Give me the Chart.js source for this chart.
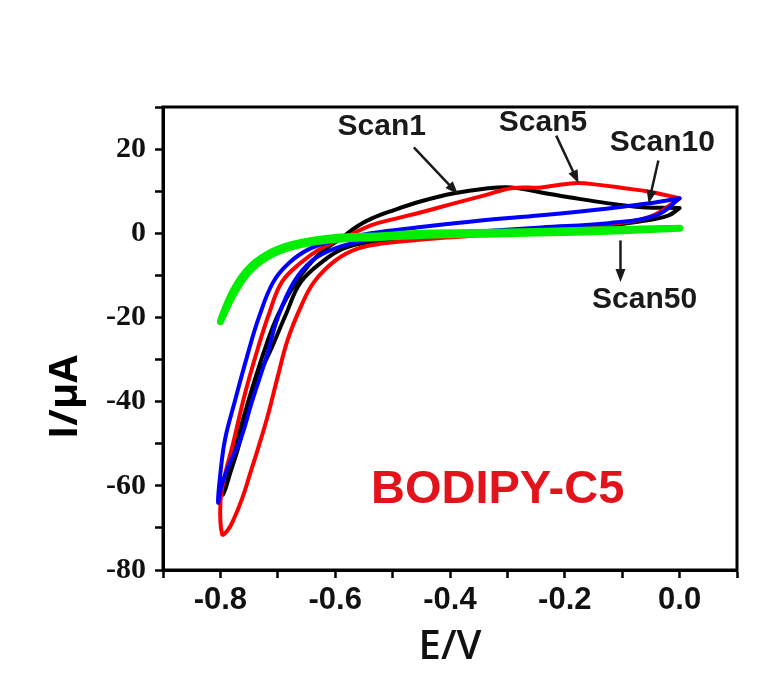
<!DOCTYPE html>
<html>
<head>
<meta charset="utf-8">
<script src="https://cdn.jsdelivr.net/npm/chart.js@4"></script>
<style>
  html, body { margin: 0; padding: 0; background: #fff; }
  #wrap { width: 757px; height: 677px; }
</style>
</head>
<body>
<div id="wrap"><canvas id="cv"></canvas></div>
<script>
// Voltamogramas (E em V, I em µA)
const scan1E = [0.0, -0.066, -0.124, -0.19, -0.241, -0.293, -0.34, -0.393, -0.45, -0.50, -0.535, -0.56, -0.59, -0.63, -0.67, -0.70, -0.72, -0.745, -0.77, -0.79, -0.80, -0.795, -0.783, -0.765, -0.753, -0.73, -0.71, -0.685, -0.66, -0.62, -0.585, -0.538, -0.45, -0.35, -0.25, -0.15, -0.07, -0.02, 0.0];
const scan1I = [6.0, 6.2, 7.1, 8.5, 9.7, 10.9, 10.6, 9.5, 7.6, 5.4, 3.6, 1.8, -1.2, -5.2, -12, -19.5, -26.5, -37, -48.5, -57, -62, -62, -57, -49, -41, -33, -27, -19, -11.6, -6.5, -3.6, -2.1, -1.2, -0.4, 0.4, 1.4, 2.8, 4.2, 6.0];

const scan5E = [0.0, -0.05, -0.096, -0.14, -0.183, -0.241, -0.293, -0.34, -0.393, -0.45, -0.50, -0.538, -0.58, -0.625, -0.66, -0.693, -0.715, -0.734, -0.757, -0.778, -0.793, -0.80, -0.797, -0.787, -0.777, -0.762, -0.748, -0.733, -0.718, -0.70, -0.683, -0.66, -0.637, -0.60, -0.56, -0.515, -0.45, -0.35, -0.24, -0.12, -0.05, 0.0];
const scan5I = [8.3, 9.8, 10.7, 11.5, 11.9, 10.9, 10.7, 9.0, 7.1, 5.0, 3.3, 1.9, -0.8, -3.6, -7, -11.6, -19, -27, -38, -50, -58, -64, -71.5, -70.5, -68, -63, -57, -50.5, -43.6, -34, -25.4, -17.5, -11.6, -6.5, -3.6, -2.4, -1.5, -0.5, 0.8, 2.2, 4.0, 8.3];

const scan10E = [0.0, -0.06, -0.124, -0.241, -0.35, -0.45, -0.538, -0.60, -0.643, -0.68, -0.708, -0.733, -0.753, -0.777, -0.792, -0.800, -0.804, -0.798, -0.785, -0.765, -0.745, -0.719, -0.70, -0.672, -0.64, -0.60, -0.538, -0.45, -0.35, -0.241, -0.124, -0.04, 0.0];
const scan10I = [8.3, 7.0, 5.9, 4.3, 3.0, 1.5, 0.0, -1.8, -3.6, -7, -11.6, -20, -29, -41, -49, -57, -64, -60, -55, -49, -40, -29, -20, -11.6, -6.5, -3.6, -1.5, -0.3, 0.4, 1.4, 2.4, 4.3, 8.3];

const scan50E = [0.0, -0.1, -0.2, -0.3, -0.45, -0.52, -0.6, -0.66, -0.707, -0.748, -0.777, -0.8, -0.777, -0.748, -0.707, -0.66, -0.6, -0.52, -0.45, -0.3, -0.2, -0.1, 0.0];
const scan50I = [1.2, 0.9, 0.6, 0.3, 0.0, -0.6, -1.0, -2.2, -4.2, -8.0, -13.5, -21, -14.5, -8.8, -4.8, -2.7, -1.5, -1.0, -0.5, -0.1, 0.2, 0.6, 1.2];

// rótulos e setas (posição em unidades dos eixos)
const rotulos = ['Scan1', 'Scan5', 'Scan10', 'Scan50'];
const rotuloE = [-0.519, -0.238, -0.030, -0.061];
const rotuloI = [25.3, 26.2, 21.5, -15.9];
const setaDeE = [-0.463, -0.215, -0.037, -0.103];
const setaDeI = [20.4, 23.2, 17.3, -1.7];
const setaAteE = [-0.386, -0.176, -0.054, -0.103];
const setaAteI = [9.3, 11.9, 7.1, -11.6];

const pontos = (es, is) => es.map((e, i) => ({ x: e, y: is[i] }));

const moldura = {
    id: 'moldura',
    afterDraw(chart) {
        const a = chart.chartArea;
        const c = chart.ctx;
        c.save();
        c.strokeStyle = '#000';
        c.lineWidth = 3;
        c.strokeRect(a.left, a.top, a.right - a.left, a.bottom - a.top);
        c.restore();
    }
};

const anotacoes = {
    id: 'anotacoes',
    afterDatasetsDraw(chart) {
        const c = chart.ctx;
        const sx = chart.scales.x, sy = chart.scales.y;
        c.save();
        c.fillStyle = '#1a1a1a';
        c.strokeStyle = '#1a1a1a';
        c.font = 'bold 30px "Liberation Sans"';
        c.textAlign = 'center';
        c.textBaseline = 'middle';
        rotulos.forEach((t, i) => {
            c.fillText(t, sx.getPixelForValue(rotuloE[i]), sy.getPixelForValue(rotuloI[i]));
            const x0 = sx.getPixelForValue(setaDeE[i]), y0 = sy.getPixelForValue(setaDeI[i]);
            const x1 = sx.getPixelForValue(setaAteE[i]), y1 = sy.getPixelForValue(setaAteI[i]);
            const ang = Math.atan2(y1 - y0, x1 - x0);
            c.lineWidth = 2.5;
            c.beginPath();
            c.moveTo(x0, y0);
            c.lineTo(x1 - 8 * Math.cos(ang), y1 - 8 * Math.sin(ang));
            c.stroke();
            c.beginPath();
            c.moveTo(x1, y1);
            c.lineTo(x1 - 13 * Math.cos(ang) + 5 * Math.sin(ang), y1 - 13 * Math.sin(ang) - 5 * Math.cos(ang));
            c.lineTo(x1 - 13 * Math.cos(ang) - 5 * Math.sin(ang), y1 - 13 * Math.sin(ang) + 5 * Math.cos(ang));
            c.closePath();
            c.fill();
        });
        // nome do composto
        c.fillStyle = '#e3131b';
        c.font = 'bold 47px "Liberation Sans"';
        c.fillText('BODIPY-C5', sx.getPixelForValue(-0.317), sy.getPixelForValue(-60.9));
        // título do eixo y
        c.fillStyle = '#000';
        c.translate(66, 397);
        c.rotate(-Math.PI / 2);
        c.font = 'bold 40px "Open Sans"';
        c.fillText('I/μA', 0, 0);
        c.restore();
    }
};

const ctx = document.getElementById('cv').getContext('2d');
const grafico = new Chart(ctx, {
    type: 'scatter',
    data: {
        datasets: [
            { label: 'Scan50', data: pontos(scan50E, scan50I), borderColor: '#00ee00', borderWidth: 7, order: 0 },
            { label: 'Scan10', data: pontos(scan10E, scan10I), borderColor: '#0000ff', borderWidth: 4, order: 1 },
            { label: 'Scan5', data: pontos(scan5E, scan5I), borderColor: '#ff0000', borderWidth: 4, order: 2 },
            { label: 'Scan1', data: pontos(scan1E, scan1I), borderColor: '#000000', borderWidth: 4, order: 3 }
        ].map(d => Object.assign(d, { showLine: true, pointRadius: 0, tension: 0.4, fill: false, borderCapStyle: 'round', borderJoinStyle: 'round' }))
    },
    plugins: [moldura, anotacoes],
    options: {
        responsive: true,
        maintainAspectRatio: false,
        animation: false,
        layout: { padding: { top: 107, right: 20, left: 0, bottom: 0 } },
        plugins: { legend: { display: false }, tooltip: { enabled: false } },
        scales: {
            x: {
                type: 'linear',
                min: -0.9,
                max: 0.1,
                afterFit: s => { s.height = 107; s.paddingRight = 0; s.paddingLeft = 0; },
                border: { color: '#000', width: 3 },
                grid: { drawOnChartArea: false, tickLength: 8, tickColor: '#000', tickWidth: 2.5 },
                ticks: {
                    stepSize: 0.1,
                    padding: 4,
                    maxRotation: 0,
                    minRotation: 0,
                    autoSkip: false,
                    color: '#111',
                    font: { family: '"Liberation Sans"', size: 31, weight: 'bold' },
                    callback: v => {
                        const r = Math.round(v * 10);
                        return r % 2 === 0 ? (r / 10).toFixed(1) : '';
                    }
                },
                title: {
                    display: true,
                    text: 'E/V',
                    color: '#111',
                    font: { family: '"Open Sans"', size: 40, weight: '600' },
                    padding: { top: 0, bottom: 5 }
                }
            },
            y: {
                type: 'linear',
                min: -80,
                max: 30,
                afterFit: s => { s.width = 163; },
                border: { color: '#000', width: 3 },
                grid: { drawOnChartArea: false, tickLength: 8, tickColor: '#000', tickWidth: 2.5 },
                ticks: {
                    stepSize: 10,
                    padding: 9,
                    color: '#111',
                    font: { family: '"Liberation Serif"', size: 30, weight: 'bold' },
                    callback: v => (Math.round(v) % 20 === 0 ? String(Math.round(v)) : '')
                }
            }
        }
    }
});
</script>
</body>
</html>
